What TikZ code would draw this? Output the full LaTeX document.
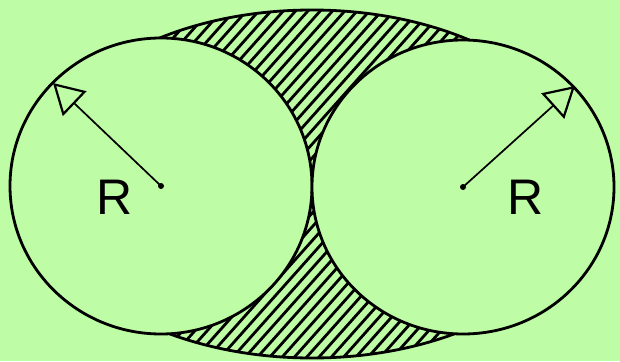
\documentclass[tikz,border=0pt]{standalone}
\usepackage{fontspec}
\setmainfont{Liberation Sans}
\usetikzlibrary{arrows.meta}
\definecolor{bg}{RGB}{190,252,166}
\tikzset{
  outline/.style={draw=black, line width=2.8pt},
  hatch/.style={draw=black, line width=2.8pt},
  radarrow/.style={draw=black, line width=1.7pt, -{Triangle[open,length=30pt,width=34pt,line width=2.2pt]}},
  dot/.style={circle, fill=black, inner sep=0pt, minimum size=6pt},
  lbl/.style={inner sep=0pt, font=\fontsize{50}{50}\selectfont}
}
\begin{document}
\begin{tikzpicture}[x=1pt,y=-1pt]
\fill[bg] (0,0) rectangle (620,361);
\useasboundingbox (0,0) rectangle (620,361);
\coordinate (e) at (312,184);
\coordinate (c1) at (161,186);
\coordinate (c2) at (463,187);
\begin{scope}
  \clip (e) ellipse [x radius=280, y radius=174];
  \foreach \i in {-20,...,50} \draw[hatch] (\i*12.3,370) -- ++(330,-370);
\end{scope}
\draw[outline] (e) ellipse [x radius=280, y radius=174];
\path[outline, fill=bg] (c1) ellipse [x radius=151, y radius=148];
\path[outline, fill=bg] (c2) ellipse [x radius=151, y radius=147];
\node[dot] (d1) at (c1) {};
\node[dot] (d2) at (c2) {};
\coordinate (t1) at (53,83);
\coordinate (t2) at (575,86);
\draw[radarrow] (d1.center) -- (t1);
\draw[radarrow] (d2.center) -- (t2);
\node[lbl] (r1) at (115,197) {R};
\node[lbl] (r2) at (526,197) {R};
\end{tikzpicture}
\end{document}
